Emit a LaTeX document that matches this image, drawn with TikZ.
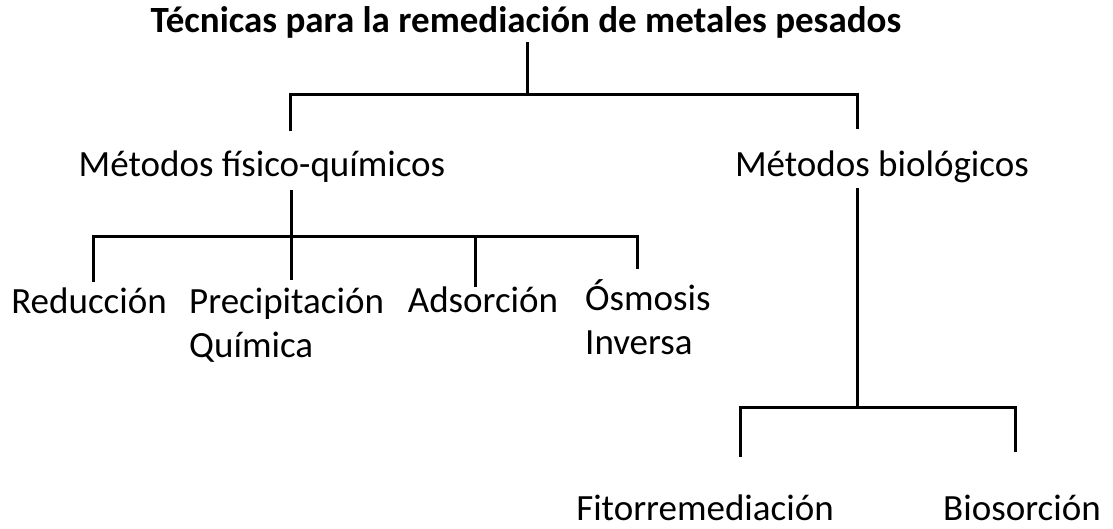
\documentclass[tikz,border=0pt]{standalone}
\usepackage{fontspec}
\setmainfont{Carlito}
\begin{document}
\begin{tikzpicture}[x=1pt,y=-1pt,
  conn/.style={line width=3pt, line join=miter, line cap=rect},
  lbl/.style={anchor=base, inner sep=0pt, font=\fontsize{37}{44}\selectfont},
  lbl2/.style={anchor=base west, inner sep=0pt, font=\fontsize{37}{44}\selectfont, align=left},
  ttl/.style={anchor=base, inner sep=0pt, font=\bfseries\fontsize{37}{44}\selectfont}]
\useasboundingbox (0,0) rectangle (1113,529);
% texts
\node[ttl] (title) at (526,33) {Técnicas para la remediación de metales pesados};
\node[lbl] (fq) at (262,177) {Métodos físico-químicos};
\node[lbl] (bio) at (882,177) {Métodos biológicos};
\node[lbl] (red) at (89,313) {Reducción};
\node[lbl2] (pre) at (189,357) {Precipitación\\Química};
\node[lbl] (ads) at (483,312) {Adsorción};
\node[lbl2] (osm) at (585,354) {Ósmosis\\Inversa};
\node[lbl] (fit) at (705,520) {Fitorremediación};
\node[lbl] (bis) at (1022,520) {Biosorción};
% junction coordinates
\coordinate (t0) at (527,44);
\coordinate (t1) at (527,95);
\coordinate (tl) at (290,95);
\coordinate (tr) at (857,95);
\coordinate (fqtop) at (290,130);
\coordinate (biotop) at (857,128);
\coordinate (f0) at (291,192);
\coordinate (fl) at (93,237);
\coordinate (fr) at (637,237);
\coordinate (fa) at (475,237);
\coordinate (redtop) at (93,280);
\coordinate (pretop) at (291,278);
\coordinate (adstop) at (475,285);
\coordinate (osmtop) at (637,268);
\coordinate (b0) at (857,190);
\coordinate (b1) at (857,407);
\coordinate (bl) at (740,407);
\coordinate (br) at (1015,407);
\coordinate (fittop) at (740,455);
\coordinate (bistop) at (1015,450);
% connectors
\draw[conn] (t0) -- (t1);
\draw[conn] (fqtop) -- (tl) -- (tr) -- (biotop);
\draw[conn] (f0) -- (pretop);
\draw[conn] (redtop) -- (fl) -- (fr) -- (osmtop);
\draw[conn] (fa) -- (adstop);
\draw[conn] (b0) -- (b1);
\draw[conn] (fittop) -- (bl) -- (br) -- (bistop);
\end{tikzpicture}
\end{document}
